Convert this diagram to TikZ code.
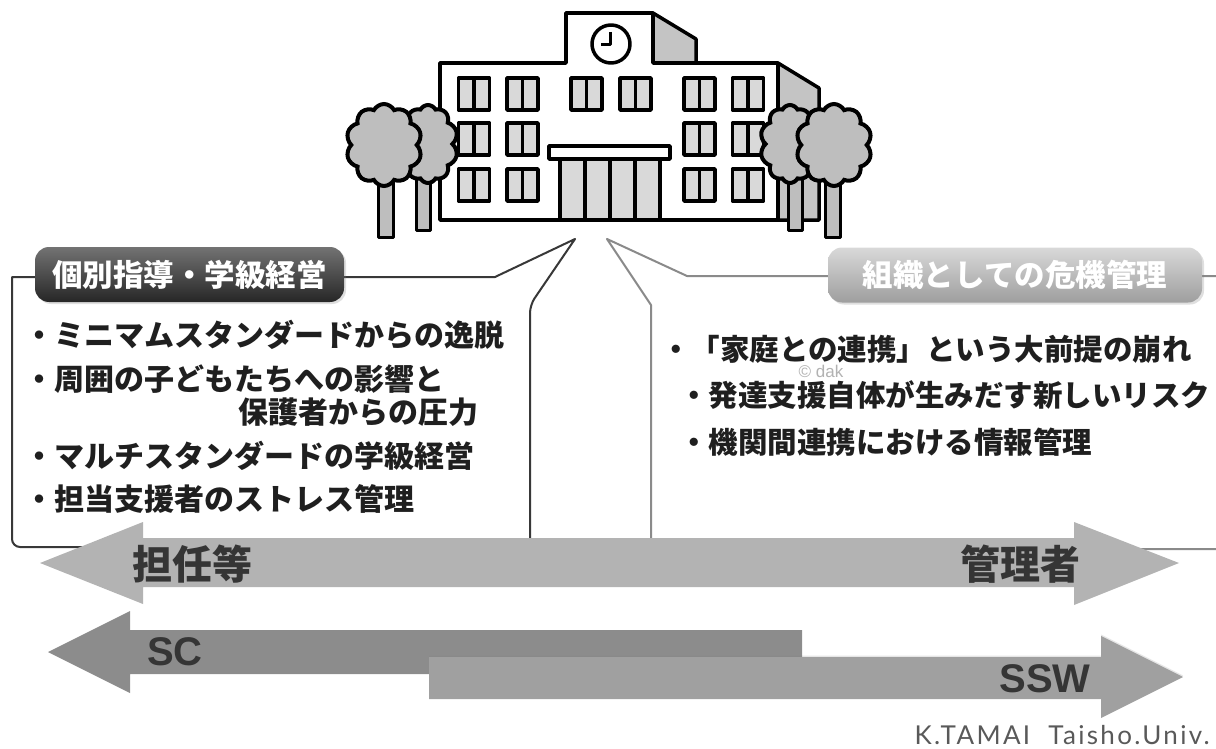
\documentclass[tikz,border=0pt]{standalone}
\usepackage{fontspec}
\setmainfont{Liberation Sans}
\newfontfamily\jp{Noto Sans CJK JP}
\newfontfamily\signfont{Lato}[LetterSpace=9]
\usetikzlibrary{shapes.symbols,shadows}

\definecolor{glassgray}{HTML}{D9D9D9}
\definecolor{leafgray}{HTML}{BEBEBE}
\definecolor{sidegray}{HTML}{C4C4C4}
\definecolor{inkgray}{HTML}{1F1F1F}
\definecolor{leftline}{HTML}{383838}
\definecolor{rightline}{HTML}{8A8A8A}
\definecolor{bandlight}{HTML}{B3B3B3}
\definecolor{banddark}{HTML}{8C8C8C}
\definecolor{bandmid}{HTML}{A0A0A0}

\begin{document}
\begin{tikzpicture}[x=1pt,y=-1pt,
  wall/.style={draw=black, line width=3.5pt, line join=round},
  window/.style={wall, fill=glassgray},
  crown/.style={cloud, cloud puffs=10, cloud puff arc=125, aspect=0.9, draw=black, line width=4pt, fill=leafgray, inner sep=0pt},
  trunk/.style={wall, line width=3pt, fill=leafgray},
  bubble/.style={fill=white, line width=2pt, line join=round},
  tag/.style={rounded corners=14pt, minimum height=55pt, inner sep=0pt, text=white, font=\jp\bfseries\fontsize{30.5}{36}\selectfont, drop shadow={shadow xshift=2pt, shadow yshift=-2pt, opacity=0.25}},
  point/.style={anchor=west, inner sep=0pt, text=inkgray, font=\jp\bfseries\fontsize{30}{36}\selectfont},
  bandlabel/.style={inner sep=0pt, text=inkgray!90!white, font=\jp\bfseries\fontsize{40}{46}\selectfont},
  roman/.style={inner sep=0pt, text=inkgray!90!white, font=\bfseries\fontsize{40}{46}\selectfont}]
	\useasboundingbox (0,0) rectangle (1216,749);
	\clip (0,0) rectangle (1216,749);

	%school building
	\filldraw[wall, fill=sidegray] (653,13) -- (696,39) -- (696,63) -- (653,63) -- cycle;
	\filldraw[wall, fill=sidegray] (778,63) -- (819,88) -- (819,220) -- (778,220) -- cycle;
	\filldraw[wall, fill=white] (440,220) -- (440,63) -- (566,63) -- (566,13) -- (653,13) -- (653,63) -- (778,63) -- (778,220) -- cycle;
	%clock
	\draw[wall] (611,44) circle (19);
	\draw[wall, line width=3pt] (610,32) -- (610,45) -- (601,45);
	%windows
	\foreach \x in {474,522.5,699.5,748}
		\foreach \y in {94,139,185}{
			\filldraw[window] (\x-15.5,\y-16) rectangle (\x+15.5,\y+16);
			\draw[wall] (\x,\y-16) -- (\x,\y+16);
		}
	\foreach \x in {586.5,635.5}{
		\filldraw[window] (\x-15.5,78) rectangle (\x+15.5,110);
		\draw[wall] (\x,78) -- (\x,110);
	}
	%entrance
	\filldraw[window] (560,159) rectangle (660,220);
	\foreach \x in {585,610,635}
		\draw[wall] (\x,159) -- (\x,220);
	\filldraw[wall, fill=white] (549,146) rectangle (670,159);

	%trees, back ones first
	\filldraw[trunk] (416,175) rectangle (430,230);
	\node[crown, minimum width=60pt, minimum height=78pt] (treeB) at (428,144) {};
	\filldraw[trunk] (378,175) rectangle (393,237);
	\node[crown, minimum width=76pt, minimum height=82pt] (treeA) at (384,145) {};
	\filldraw[trunk] (788,175) rectangle (802,230);
	\node[crown, minimum width=60pt, minimum height=78pt] (treeC) at (790,144) {};
	\filldraw[trunk] (825,175) rectangle (840,237);
	\node[crown, minimum width=76pt, minimum height=82pt] (treeD) at (834,145) {};

	%speech bubbles
	\filldraw[bubble, draw=leftline] (575,239) -- (495,277) -- (12,277) [rounded corners=8pt] -- (12,547) -- (530,547) -- (530,305) [sharp corners] -- cycle;
	\filldraw[bubble, draw=rightline] (607,239) -- (687,276) -- (1230,276) -- (1230,549) -- (651,549) -- (651,305) -- cycle;
	\node[tag, minimum width=309pt, top color=black!55, bottom color=black!85] (classTag) at (189.5,274.5) {個別指導・学級経営};
	\node[tag, minimum width=374pt, top color=black!15, bottom color=black!38] (orgTag) at (1015,275) {組織としての危機管理};

	\node[inner sep=0pt, text=black!30, font=\fontsize{17}{20}\selectfont] (mark) at (821,371) {© dak};

	%left list
	\node[point] (classA) at (24,335) {・ミニマムスタンダードからの逸脱};
	\node[point] (classB) at (24,379) {・周囲の子どもたちへの影響と};
	\node[point] (classC) at (238,412) {保護者からの圧力};
	\node[point] (classD) at (24,456) {・マルチスタンダードの学級経営};
	\node[point] (classE) at (24,499) {・担当支援者のストレス管理};
	%right list
	\node[point, font=\jp\bfseries\fontsize{29.5}{36}\selectfont] (orgA) at (661,349) {・「家庭との連携」という大前提の崩れ};
	\node[point, font=\jp\bfseries\fontsize{29.5}{36}\selectfont] (orgB) at (679,395) {・発達支援自体が生みだす新しいリスク};
	\node[point, font=\jp\bfseries\fontsize{29.5}{36}\selectfont] (orgC) at (679,442) {・機関間連携における情報管理};

	%role arrows
	\fill[bandlight] (40,563) -- (143,522) -- (143,538) -- (1074,538) -- (1074,522) -- (1179,563) -- (1074,605) -- (1074,587) -- (143,587) -- (143,604) -- cycle;
	\fill[banddark] (48,652) -- (130,611) -- (130,630) -- (802,630) -- (802,674) -- (130,674) -- (130,693) -- cycle;
	\fill[bandmid, drop shadow={shadow xshift=0pt, shadow yshift=1.5pt, opacity=0.2}] (429,657) -- (1101,657) -- (1101,636) -- (1183,677) -- (1101,718) -- (1101,699) -- (429,699) -- cycle;

	\node[bandlabel] (teacher) at (192,564) {担任等};
	\node[bandlabel] (manager) at (1020,564) {管理者};
	\node[roman] (sc) at (175,652) {SC};
	\node[roman] (ssw) at (1045,679) {SSW};

	\node[anchor=base east, inner sep=0pt, text=black!65, font=\signfont\fontsize{26}{30}\selectfont] (sign) at (1210,744) {K.TAMAI\ \ Taisho.Univ.};
\end{tikzpicture}
\end{document}
